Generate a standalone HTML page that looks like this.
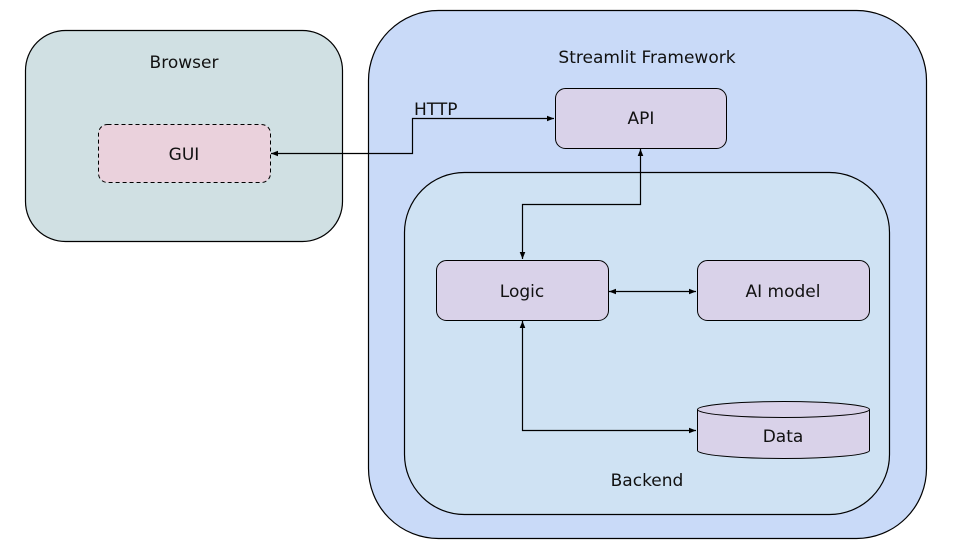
<!DOCTYPE html>
<html><head><meta charset="utf-8"><style>
html,body{margin:0;padding:0;background:#fff;}
svg{display:block;}
text{font-family:"DejaVu Sans","Liberation Sans",sans-serif;font-size:17px;fill:#111;}
</style></head><body>
<svg width="953" height="549" viewBox="0 0 953 549" xmlns="http://www.w3.org/2000/svg">
<defs>
<marker id="a" viewBox="0 0 10 10" refX="10" refY="5" markerWidth="7" markerHeight="7" orient="auto-start-reverse" markerUnits="userSpaceOnUse">
<path d="M0,1 L10,5 L0,9 z" fill="#000"/></marker>
</defs>
<rect x="25.5" y="30.5" width="317" height="211" rx="40" fill="#d0e0e3" stroke="#000" stroke-width="1.2"/>
<rect x="368.5" y="10.5" width="558" height="528" rx="70" fill="#c9daf8" stroke="#000" stroke-width="1.2"/>
<rect x="404.5" y="172.5" width="485" height="342" rx="60" fill="#cfe2f3" stroke="#000" stroke-width="1.2"/>
<rect x="98.5" y="124.5" width="172" height="58" rx="9" fill="#ead1dc" stroke="#000" stroke-dasharray="4,3"/>
<rect x="555.5" y="88.5" width="171" height="60" rx="10" fill="#d9d2e9" stroke="#000"/>
<rect x="436.5" y="260.5" width="172" height="60" rx="10" fill="#d9d2e9" stroke="#000"/>
<rect x="697.5" y="260.5" width="172" height="60" rx="10" fill="#d9d2e9" stroke="#000"/>
<path d="M697.5,409.5 L697.5,450.5 A86,8 0 0 0 869.5,450.5 L869.5,409.5" fill="#d9d2e9" stroke="#000"/>
<ellipse cx="783.5" cy="409.5" rx="86" ry="8" fill="#d9d2e9" stroke="#000"/>
<g fill="none" stroke="#000" stroke-width="1.2">
<path d="M271,153.5 L412.5,153.5 L412.5,118.5 L554,118.5" marker-start="url(#a)" marker-end="url(#a)"/>
<path d="M640.5,149 L640.5,204.5 L522.5,204.5 L522.5,259" marker-start="url(#a)" marker-end="url(#a)"/>
<path d="M609,291.5 L696,291.5" marker-start="url(#a)" marker-end="url(#a)"/>
<path d="M522.5,321 L522.5,430.5 L696,430.5" marker-start="url(#a)" marker-end="url(#a)"/>
</g>
<text x="184" y="68" text-anchor="middle">Browser</text>
<text x="184" y="160" text-anchor="middle">GUI</text>
<text x="647" y="63" text-anchor="middle">Streamlit Framework</text>
<text x="414" y="115">HTTP</text>
<text x="641" y="124" text-anchor="middle">API</text>
<text x="522" y="297" text-anchor="middle">Logic</text>
<text x="783" y="297" text-anchor="middle">AI model</text>
<text x="783" y="442" text-anchor="middle">Data</text>
<text x="647" y="486" text-anchor="middle">Backend</text>
</svg>
</body></html>
